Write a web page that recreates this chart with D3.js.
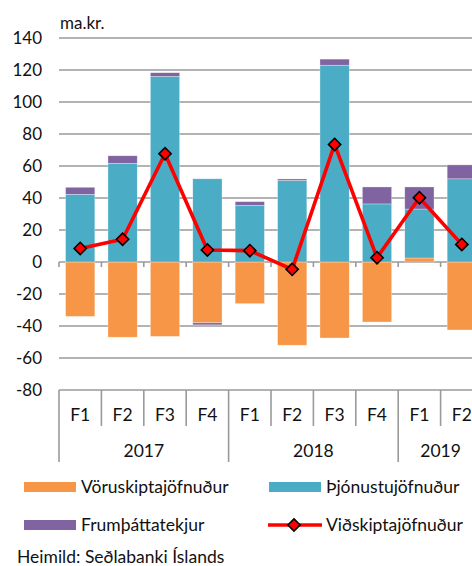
<!DOCTYPE html>
<html><head><meta charset="utf-8">
<script src="https://cdn.jsdelivr.net/npm/d3@7"></script>
<style>
html,body{margin:0;padding:0;background:#fff;overflow:hidden}
text{font-family:Lato,"Open Sans",sans-serif;fill:#111}
</style></head>
<body><svg id="c" width="472" height="566"></svg>
<script>
const quarters = ["F1","F2","F3","F4","F1","F2","F3","F4","F1","F2"];
const years = [{label:"2017", from:0, to:4},{label:"2018", from:4, to:8},{label:"2019", from:8, to:10}];
const goods    = [-34, -47, -46.5, -38, -26, -52, -47.5, -37.5, 2.5, -42.5];
const services = [42.3, 61.7, 116, 52, 35.4, 51, 123, 36.3, 30.6, 52];
const primary  = [4.4, 4.7, 2.3, -1.3, 2.3, 0.9, 3.8, 10.6, 13.8, 8.7];
const current  = [8.5, 14.2, 67.7, 7.5, 7.1, -4.6, 73.5, 2.7, 40.2, 11];
const yTicks = [140,120,100,80,60,40,20,0,-20,-40,-60,-80];
const seriesNames = ["Vöruskiptajöfnuður","Þjónustujöfnuður","Frumþáttatekjur","Viðskiptajöfnuður"];
const colors = ["#F79646","#4BACC6","#8064A2","#FF0000"];

const svg = d3.select("#c");
const W = 472;
const x0 = 59, x1 = 483;
const idx = d3.range(quarters.length);
const x = d3.scaleBand().domain(idx).range([x0, x1]).paddingInner(0.31).paddingOuter(0.155);
const step = x.step();
const y = d3.scaleLinear().domain([-80, 140]).range([390, 38]);
const gridColor = "#9a9a9a";
const fs = "17.5px";

// gridlines
svg.append("g").selectAll("line").data(yTicks).join("line")
  .attr("x1", x0).attr("x2", W).attr("y1", d => y(d)).attr("y2", d => y(d))
  .attr("stroke", gridColor).attr("stroke-width", 1.6);

// y labels
svg.append("g").selectAll("text").data(yTicks).join("text")
  .attr("x", 42).attr("y", d => y(d)).attr("dy", "0.35em")
  .attr("text-anchor", "end").style("font-size", "17px").text(d => d);

svg.append("text").attr("x", 60).attr("y", 29).style("font-size", "17px").text("ma.kr.");

// stacked bars
const rows = idx.map(i => ({i, g: goods[i], s: services[i], p: primary[i]}));
const stack = d3.stack().keys(["g","s","p"]).offset(d3.stackOffsetDiverging);
const stacked = stack(rows);
svg.append("g").selectAll("g").data(stacked).join("g")
  .attr("fill", (d, k) => colors[k])
  .selectAll("rect").data(d => d).join("rect")
  .attr("x", d => x(d.data.i)).attr("width", x.bandwidth())
  .attr("y", d => y(Math.max(d[0], d[1])))
  .attr("height", d => Math.abs(y(d[0]) - y(d[1])))
  .attr("stroke", "#ffffff").attr("stroke-opacity", 0.5).attr("stroke-width", 0.6);

// ticks on zero line
const bounds = d3.range(quarters.length + 1).map(k => x0 + k * step);
svg.append("g").selectAll("line").data(bounds).join("line")
  .attr("x1", d => d).attr("x2", d => d).attr("y1", y(0)).attr("y2", y(0) + 5)
  .attr("stroke", gridColor).attr("stroke-width", 1.6);

// category box
const yearBounds = new Set(years.map(d => d.from));
svg.append("g").selectAll("line").data(bounds).join("line")
  .attr("x1", d => d).attr("x2", d => d).attr("y1", y(-80))
  .attr("y2", (d, k) => yearBounds.has(k) ? 462 : 426)
  .attr("stroke", gridColor).attr("stroke-width", 1.6);
svg.append("g").selectAll("text").data(quarters).join("text")
  .attr("x", (d, i) => x(i) + x.bandwidth() / 2).attr("y", 415).attr("dy", "0.35em")
  .attr("text-anchor", "middle").style("font-size", fs).text(d => d);
svg.append("g").selectAll("text").data(years).join("text")
  .attr("x", d => (x0 + d.from * step + x0 + d.to * step) / 2).attr("y", 451).attr("dy", "0.35em")
  .attr("text-anchor", "middle").style("font-size", fs).text(d => d.label);

// line
const cx = i => x(i) + x.bandwidth() / 2;
const line = d3.line().x((d, i) => cx(i)).y(d => y(d));
svg.append("path").datum(current).attr("d", line)
  .attr("fill", "none").attr("stroke", colors[3]).attr("stroke-width", 3.6).attr("stroke-linejoin", "round");
const diamond = d3.symbol().type(d3.symbolDiamond2).size(95);
svg.append("g").selectAll("path").data(current).join("path")
  .attr("d", diamond).attr("transform", (d, i) => `translate(${cx(i)},${y(d)})`)
  .attr("fill", colors[3]).attr("stroke", "#000").attr("stroke-width", 1.6);

// legend
const leg = svg.append("g");
const legItems = [
  {k:0, x:24, y:487}, {k:1, x:269, y:487}, {k:2, x:24, y:525}, {k:3, x:268, y:525}
];
legItems.forEach(it => {
  if (it.k < 3) {
    leg.append("rect").attr("x", it.x).attr("y", it.y - 5).attr("width", 52).attr("height", 10).attr("fill", colors[it.k]);
    leg.append("text").attr("x", it.x + 57).attr("y", it.y).attr("dy", "0.35em").style("font-size", fs).text(seriesNames[it.k]);
  } else {
    leg.append("line").attr("x1", it.x).attr("x2", it.x + 54).attr("y1", it.y).attr("y2", it.y)
      .attr("stroke", colors[3]).attr("stroke-width", 3.6);
    leg.append("path").attr("d", diamond).attr("transform", `translate(${it.x + 26},${it.y})`)
      .attr("fill", colors[3]).attr("stroke", "#000").attr("stroke-width", 1.6);
    leg.append("text").attr("x", 326).attr("y", it.y).attr("dy", "0.35em").style("font-size", fs).text(seriesNames[3]);
  }
});

svg.append("text").attr("x", 17).attr("y", 557).attr("dy", "0.35em").style("font-size", fs).text("Heimild: Seðlabanki Íslands");
</script></body></html>
